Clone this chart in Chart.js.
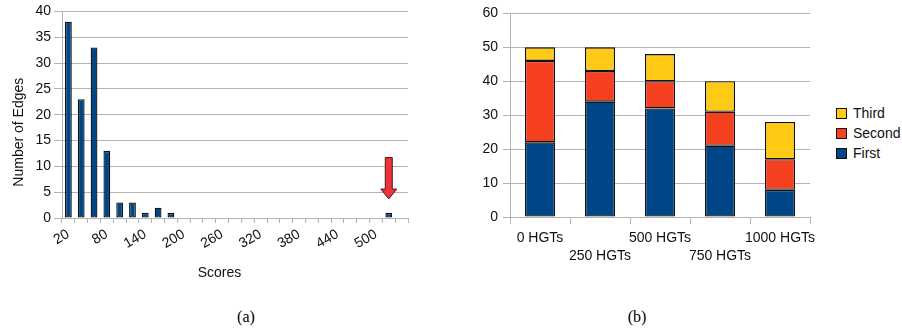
<!DOCTYPE html>
<html><head><meta charset="utf-8">
<script src="https://cdn.jsdelivr.net/npm/chart.js@4.4.0/dist/chart.umd.min.js"></script>
<style>
html,body{margin:0;padding:0;background:#fff;width:902px;height:334px;overflow:hidden}
canvas{position:absolute;top:0}
#cA{left:0}
#cB{left:440px}
.cap{position:absolute;top:308px;font:16px "Liberation Serif","Times New Roman",serif;color:#000;transform:translateX(-50%)}
#legend{position:absolute;left:836px;top:103px;font:14px "Liberation Sans",Arial,sans-serif;color:#111}
.li{height:20px;display:flex;align-items:center}
.sw{width:9px;height:9px;border:1px solid #111;margin-right:6px}
</style></head><body>
<canvas id="cA" width="430" height="290"></canvas>
<canvas id="cB" width="390" height="290"></canvas>
<div id="legend"></div>
<div class="cap" style="left:246px">(a)</div>
<div class="cap" style="left:637px">(b)</div>
<script>
// ---- Chart (a) data ----
const scoreCategories = [20,40,60,80,100,120,140,160,180,200,220,240,260,280,300,320,340,360,380,400,420,440,460,480,500,520,540];
const edgeCounts      = [38,23,33,13,3,3,1,2,1,0,0,0,0,0,0,0,0,0,0,0,0,0,0,0,0,1,0];
const scoreLabelEvery = 3;
const arrowCategory = 520;     // bin pointed at by the red arrow
const arrowTopValue = 11.7;
const arrowHeadValue = 5.6;
const arrowTipValue = 3.7;

// ---- Chart (b) data ----
const hgtCategories = ['0 HGTs','250 HGTs','500 HGTs','750 HGTs','1000 HGTs'];
const firstValues  = [22,34,32,21,8];
const secondValues = [24,9,8,10,9];
const thirdValues  = [4,7,8,9,11];

const FONT = '"Liberation Sans", Arial, sans-serif';
const GRID = '#b3b3b3';
const TXT = '#111';
const BLUE = '#004586', RED = '#f5411f', YELLOW = '#ffc916', EDGE = '#111111';

Chart.defaults.font.family = FONT;
Chart.defaults.font.size = 14;
Chart.defaults.color = TXT;

const arrowPlugin = {
  id: 'arrowMark',
  afterDatasetsDraw(chart) {
    const xs = chart.scales.x, ys = chart.scales.y, ctx = chart.ctx;
    const x = xs.getPixelForValue(scoreCategories.indexOf(arrowCategory));
    const yTop = ys.getPixelForValue(arrowTopValue);
    const yHead = ys.getPixelForValue(arrowHeadValue);
    const yTip = ys.getPixelForValue(arrowTipValue);
    const sw = 3.5, hw = 8;
    ctx.save();
    ctx.beginPath();
    ctx.moveTo(x - sw, yTop);
    ctx.lineTo(x + sw, yTop);
    ctx.lineTo(x + sw, yHead);
    ctx.lineTo(x + hw, yHead);
    ctx.lineTo(x, yTip);
    ctx.lineTo(x - hw, yHead);
    ctx.lineTo(x - sw, yHead);
    ctx.closePath();
    ctx.fillStyle = '#ee3338';
    ctx.fill();
    ctx.lineWidth = 1;
    ctx.strokeStyle = '#4a1a1a';
    ctx.stroke();
    ctx.restore();
  }
};

new Chart(document.getElementById('cA'), {
  type: 'bar',
  data: {
    labels: scoreCategories.map(String),
    datasets: [{
      data: edgeCounts,
      backgroundColor: BLUE,
      borderColor: EDGE,
      borderWidth: 1.3,
      borderSkipped: false,
      barPercentage: 0.53,
      categoryPercentage: 1
    }]
  },
  options: {
    responsive: false,
    animation: false,
    layout: { padding: { top: 10, right: 22, bottom: 0, left: 0 } },
    plugins: { legend: { display: false }, tooltip: { enabled: false } },
    scales: {
      x: {
        grid: { drawOnChartArea: false, color: GRID, tickLength: 5, offset: true },
        border: { color: GRID },
        ticks: {
          autoSkip: false, minRotation: 30, maxRotation: 30, padding: 3, color: TXT,
          callback: function(v, i) { return i % scoreLabelEvery === 0 ? this.getLabelForValue(v) : ''; }
        },
        title: { display: true, text: 'Scores        ', color: TXT, font: { size: 14 }, padding: { top: 0, bottom: 8.6 } },
        afterFit(s) { s.height = 72; }
      },
      y: {
        min: 0, max: 40,
        grid: { color: GRID, tickLength: 8 },
        border: { color: GRID },
        ticks: { stepSize: 5, padding: 3, color: TXT },
        title: { display: true, text: 'Number of Edges         ', color: TXT, font: { size: 14 }, padding: { top: 10.6, bottom: 0 } },
        afterFit(s) { s.width = 62; }
      }
    }
  },
  plugins: [arrowPlugin]
});

const chartB = new Chart(document.getElementById('cB'), {
  type: 'bar',
  data: {
    labels: hgtCategories,
    datasets: [
      { label: 'First',  data: firstValues,  backgroundColor: BLUE },
      { label: 'Second', data: secondValues, backgroundColor: RED },
      { label: 'Third',  data: thirdValues,  backgroundColor: YELLOW }
    ].map(d => Object.assign(d, { borderColor: EDGE, borderWidth: 1.3, borderSkipped: false, barPercentage: 0.5, categoryPercentage: 1 }))
  },
  options: {
    responsive: false,
    animation: false,
    layout: { padding: { top: 10, right: 20, bottom: 0, left: 0 } },
    plugins: { legend: { display: false }, tooltip: { enabled: false } },
    scales: {
      x: {
        stacked: true,
        grid: { drawOnChartArea: false, color: GRID, tickLength: 7, offset: true },
        border: { color: GRID },
        ticks: {
          autoSkip: false, maxRotation: 0, minRotation: 0, padding: 5, color: TXT,
          font: { size: 14, lineHeight: 1.3 },
          callback: function(v, i) { const l = this.getLabelForValue(v); return i % 2 ? ['', l] : [l, '']; }
        },
        afterFit(s) { s.height = 73; }
      },
      y: {
        stacked: true, min: 0, max: 60,
        grid: { color: GRID, tickLength: 7 },
        border: { color: GRID },
        ticks: { stepSize: 10, padding: 5, color: TXT },
        afterFit(s) { s.width = 70; }
      }
    }
  }
});

// HTML legend built from the chart's datasets (reverse order like the original)
const leg = document.getElementById('legend');
chartB.data.datasets.slice().reverse().forEach(ds => {
  const row = document.createElement('div'); row.className = 'li';
  const sw = document.createElement('span'); sw.className = 'sw'; sw.style.background = ds.backgroundColor;
  const tx = document.createElement('span'); tx.textContent = ds.label;
  row.appendChild(sw); row.appendChild(tx); leg.appendChild(row);
});
</script>
</body></html>
